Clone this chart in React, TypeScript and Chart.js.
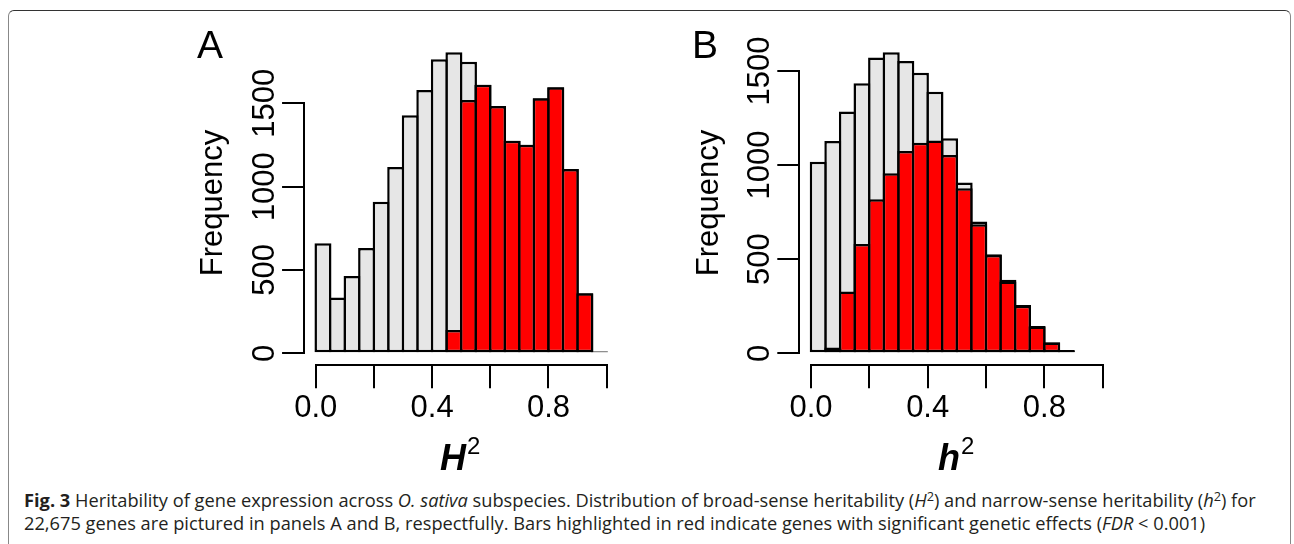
import React, { useEffect, useLayoutEffect, useRef } from "react";
import { Chart, registerables } from "chart.js";

Chart.register(...registerables);

// ---------- data ----------
// histogram bin centres (bin width 0.05)
const broadBinCenters = [
  0.025, 0.075, 0.125, 0.175, 0.225, 0.275, 0.325, 0.375, 0.425, 0.475,
  0.525, 0.575, 0.625, 0.675, 0.725, 0.775, 0.825, 0.875, 0.925, 0.975,
];
// Panel A: broad-sense heritability H^2
const broadAllGenes = [
  660, 334, 464, 632, 910, 1118, 1428, 1580, 1764, 1806,
  1750, 1612, 1484, 1276, 1252, 1530, 1596, 1106, 360, 10,
];
const broadSignificant = [
  0, 0, 0, 0, 0, 0, 0, 0, 0, 140,
  1520, 1612, 1484, 1276, 1252, 1530, 1596, 1106, 360, 10,
];

const narrowBinCenters = [
  0.025, 0.075, 0.125, 0.175, 0.225, 0.275, 0.325, 0.375, 0.425, 0.475,
  0.525, 0.575, 0.625, 0.675, 0.725, 0.775, 0.825, 0.875,
];
// Panel B: narrow-sense heritability h^2
const narrowAllGenes = [
  1018, 1128, 1284, 1435, 1571, 1599, 1553, 1491, 1390, 1142,
  908, 700, 526, 390, 257, 145, 58, 18,
];
const narrowSignificant = [
  0, 30, 328, 581, 818, 956, 1075, 1119, 1130, 1054,
  877, 685, 522, 381, 253, 142, 57, 14,
];

const xTickValues = [0, 0.2, 0.4, 0.6, 0.8, 1.0];
const xTickLabels = ["0.0", "", "0.4", "", "0.8", ""];
const yTickValues = [0, 500, 1000, 1500];
const yTickLabels = ["0", "500", "1000", "1500"];

// ---------- styles ----------
const FONT = "'Liberation Sans', Arial, Helvetica, sans-serif";
const RED = "#ff0000";
const GREY = "#e6e6e6";

const rAxisLines = {
  id: "rAxisLines",
  afterDraw(chart: any) {
    const { ctx, chartArea, scales } = chart;
    const xs = scales.x;
    const ys = scales.y;
    const xv = xs.ticks.map((t: any) => t.value);
    const yv = ys.ticks.map((t: any) => t.value);
    ctx.save();
    ctx.strokeStyle = "#000";
    ctx.lineWidth = 2;
    ctx.lineCap = "square";
    ctx.beginPath();
    const yb = Math.round(chartArea.bottom);
    ctx.moveTo(Math.round(xs.getPixelForValue(Math.min(...xv))), yb);
    ctx.lineTo(Math.round(xs.getPixelForValue(Math.max(...xv))), yb);
    const xl = Math.round(chartArea.left);
    ctx.moveTo(xl, Math.round(ys.getPixelForValue(Math.min(...yv))));
    ctx.lineTo(xl, Math.round(ys.getPixelForValue(Math.max(...yv))));
    ctx.stroke();
    ctx.restore();
  },
};

type PanelProps = {
  centers: number[];
  all: number[];
  sig: number[];
  left: number;
  top: number;
  width: number;
  height: number;
  area: { left: number; right: number; top: number; bottom: number };
};

function HistPanel({ centers, all, sig, left, top, width, height, area }: PanelProps) {
  const ref = useRef<HTMLCanvasElement>(null);
  useEffect(() => {
    if (!ref.current) return;
    const ymax = Math.max(...all);
    const barStyle = {
      borderColor: "#000",
      borderWidth: 2.5,
      borderSkipped: false,
      barPercentage: 1.17,
      categoryPercentage: 1,
      grouped: false,
    };
    const tickFont = { family: FONT, size: 31 };
    const chart = new Chart(ref.current, {
      type: "bar",
      data: {
        datasets: [
          {
            label: "Significant (FDR < 0.001)",
            data: centers.map((x, i) => ({ x, y: sig[i] })),
            backgroundColor: RED,
            ...barStyle,
          } as any,
          {
            label: "All genes",
            data: centers.map((x, i) => ({ x, y: all[i] })),
            backgroundColor: GREY,
            ...barStyle,
          } as any,
        ],
      },
      options: {
        responsive: false,
        animation: false,
        devicePixelRatio: 1,
        events: [],
        layout: { padding: { left: 0, top: area.top, right: width - area.right, bottom: 0 } },
        plugins: { legend: { display: false }, tooltip: { enabled: false } },
        scales: {
          x: {
            type: "linear",
            position: "bottom",
            min: -0.04,
            max: 1.04,
            offset: false,
            afterBuildTicks: (s: any) => {
              s.ticks = xTickValues.map((v) => ({ value: v }));
            },
            afterFit: (s: any) => {
              s.height = height - area.bottom;
            },
            grid: {
              display: true,
              offset: false,
              drawOnChartArea: false,
              drawTicks: true,
              tickLength: 23,
              lineWidth: 2,
              color: "#000",
            },
            border: { display: false },
            ticks: {
              autoSkip: false,
              maxRotation: 0,
              minRotation: 0,
              padding: 2,
              color: "#000",
              font: tickFont,
              callback: (_v: any, i: number) => xTickLabels[i],
            },
          },
          y: {
            type: "linear",
            min: -0.04 * ymax,
            max: 1.04 * ymax,
            afterBuildTicks: (s: any) => {
              s.ticks = yTickValues.map((v) => ({ value: v }));
            },
            afterFit: (s: any) => {
              s.width = area.left;
            },
            grid: {
              display: true,
              drawOnChartArea: false,
              drawTicks: true,
              tickLength: 22,
              lineWidth: 2,
              color: "#000",
            },
            border: { display: false },
            ticks: {
              autoSkip: false,
              minRotation: 90,
              maxRotation: 90,
              crossAlign: "center",
              padding: -17.4,
              color: "#000",
              font: tickFont,
              callback: (_v: any, i: number) => yTickLabels[i],
            },
          },
        },
      } as any,
      plugins: [rAxisLines],
    });
    return () => chart.destroy();
  }, []);
  return (
    <canvas
      ref={ref}
      width={width}
      height={height}
      style={{ position: "absolute", left, top, width, height }}
    />
  );
}

const abs = (extra: React.CSSProperties): React.CSSProperties => ({
  position: "absolute",
  whiteSpace: "nowrap",
  lineHeight: 1,
  ...extra,
});

function YTitle({ cx, cy }: { cx: number; cy: number }) {
  return (
    <div
      style={abs({
        left: cx,
        top: cy,
        fontFamily: FONT,
        fontSize: 31,
        color: "#000",
        transform: "translate(-50%, -50%) rotate(-90deg)",
      })}
    >
      Frequency
    </div>
  );
}

function XTitle({ left, top, letter }: { left: number; top: number; letter: string }) {
  return (
    <div
      style={abs({
        left,
        top,
        fontFamily: FONT,
        fontSize: 36,
        fontWeight: "bold",
        fontStyle: "italic",
        color: "#000",
      })}
    >
      {letter}
      <span
        style={{
          fontSize: 24,
          fontWeight: "normal",
          fontStyle: "normal",
          position: "relative",
          top: -16,
          marginLeft: 1,
        }}
      >
        2
      </span>
    </div>
  );
}

const CAPTION_FONT = "'Open Sans', 'Noto Sans', sans-serif";

export default function App() {
  const line1 = useRef<HTMLDivElement>(null);
  const line2 = useRef<HTMLDivElement>(null);
  useLayoutEffect(() => {
    if (!line1.current || !line2.current) return;
    const w = line1.current.scrollWidth;
    const s = 1232 / w;
    line1.current.style.transform = `scaleX(${s})`;
    line2.current.style.transform = `scaleX(${s})`;
  }, []);

  const sup: React.CSSProperties = { fontSize: "0.7em", position: "relative", top: "-0.45em" };
  const capStyle = (top: number) =>
    abs({
      left: 24,
      top,
      fontFamily: CAPTION_FONT,
      fontSize: 17.5,
      color: "#231f20",
      transformOrigin: "left center",
    });

  return (
    <div
      style={{
        position: "fixed",
        left: 0,
        top: 0,
        width: 1294,
        height: 544,
        overflow: "hidden",
        background: "#fff",
      }}
    >
      <div
        style={{
          position: "absolute",
          left: 8,
          top: 10,
          width: 1283,
          height: 600,
          borderStyle: "solid",
          borderWidth: 1,
          borderColor: "#333 #888 #888 #888",
          borderRadius: 6,
          boxSizing: "border-box",
        }}
      />

      <HistPanel
        centers={broadBinCenters}
        all={broadAllGenes}
        sig={broadSignificant}
        left={160}
        top={0}
        width={480}
        height={480}
        area={{ left: 144.06, right: 458.3, top: 40.3, bottom: 365.3 }}
      />
      <HistPanel
        centers={narrowBinCenters}
        all={narrowAllGenes}
        sig={narrowSignificant}
        left={655}
        top={0}
        width={480}
        height={480}
        area={{ left: 144.3, right: 459.4, top: 40.3, bottom: 365.3 }}
      />

      <div style={abs({ left: 197, top: 25, fontFamily: FONT, fontSize: 39, color: "#000" })}>A</div>
      <div style={abs({ left: 692, top: 25, fontFamily: FONT, fontSize: 39, color: "#000" })}>B</div>

      <YTitle cx={211.3} cy={202.5} />
      <YTitle cx={706.5} cy={202.5} />

      <XTitle left={440} top={440} letter="H" />
      <XTitle left={938} top={440} letter="h" />

      <div ref={line1} style={capStyle(491.5)}>
        <b>Fig. 3</b> Heritability of gene expression across <i>O. sativa</i> subspecies. Distribution of
        broad-sense heritability (<i>H</i>
        <span style={sup}>2</span>) and narrow-sense heritability (<i>h</i>
        <span style={sup}>2</span>) for
      </div>
      <div ref={line2} style={capStyle(514.5)}>
        22,675 genes are pictured in panels A and B, respectfully. Bars highlighted in red indicate genes
        with significant genetic effects (<i>FDR</i> &lt; 0.001)
      </div>
    </div>
  );
}
